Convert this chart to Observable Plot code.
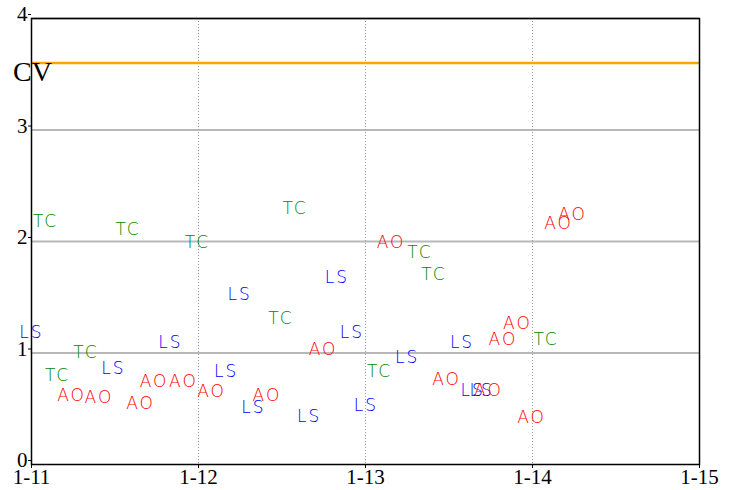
<!DOCTYPE html>
<html>
<head>
<meta charset="utf-8">
<script src="https://cdn.jsdelivr.net/npm/d3@7"></script>
<script src="https://cdn.jsdelivr.net/npm/@observablehq/plot@0.6"></script>
<style>
  html, body { margin: 0; padding: 0; background: #fff; }
  svg { display: block; }
</style>
</head>
<body>
<div id="chart"></div>
<script>
// x tick labels (positions 0..4)
const xTickLabels = ["1-11", "1-12", "1-13", "1-14", "1-15"];
const yTicks = [0, 1, 2, 3, 4];
const cvValue = 3.6;

// TC series (green)
const tcX = [0.078, 0.572, 0.988, 1.572, 2.32, 2.404, 1.488, 0.32, 0.15, 2.078, 3.075];
const tcY = [2.18, 2.11, 1.99, 2.30, 1.90, 1.70, 1.31, 1.00, 0.80, 0.83, 1.12];

// LS series (blue)
const lsX = [-0.006, 0.485, 0.826, 1.24, 1.159, 1.323, 1.656, 1.823, 1.913, 1.997, 2.243, 2.572, 2.635, 2.689];
const lsY = [1.18, 0.86, 1.09, 1.52, 0.83, 0.51, 0.43, 1.68, 1.18, 0.53, 0.96, 1.09, 0.66, 0.66];

// AO series (red)
const aoX = [0.234, 0.398, 0.647, 0.728, 0.904, 1.072, 1.404, 1.74, 2.147, 2.479, 2.73, 2.817, 2.904, 2.988, 3.15, 3.234];
const aoY = [0.62, 0.60, 0.55, 0.74, 0.74, 0.65, 0.62, 1.03, 1.99, 0.76, 0.66, 1.12, 1.26, 0.42, 2.16, 2.24];

const seriesColors = {TC: "#008a00", LS: "#0000ff", AO: "#ff0000"};

const points = [
  ...tcX.map((x, i) => ({x, y: tcY[i], label: "TC"})),
  ...lsX.map((x, i) => ({x, y: lsY[i], label: "LS"})),
  ...aoX.map((x, i) => ({x, y: aoY[i], label: "AO"}))
];

const chart = Plot.plot({
  width: 737,
  height: 490,
  marginLeft: 31,
  marginRight: 38,
  marginTop: 18,
  marginBottom: 26,
  style: {background: "#fff", overflow: "visible"},
  x: {domain: [0, 4], ticks: [0, 1, 2, 3, 4], tickFormat: i => xTickLabels[i]},
  y: {domain: [0, 4], ticks: yTicks, tickFormat: d => String(d)},
  marks: [
    Plot.ruleY(yTicks.filter(d => d > 0), {stroke: "#b8b8b8", strokeWidth: 2}),
    Plot.ruleX([1, 2, 3], {stroke: "#999", strokeWidth: 1, strokeDasharray: "1,2"}),
    Plot.ruleY([cvValue], {stroke: "#ffa500", strokeWidth: 2.5}),
    Plot.text(points, {
      x: "x", y: "y", text: "label",
      fill: d => seriesColors[d.label],
      fontSize: 17, fontFamily: "DejaVu Sans", fontWeight: 200,
      textAnchor: "middle", dx: 1
    }),
    Plot.text([cvValue], {
      x: 0, y: d => d, text: () => "CV",
      fontSize: 28, fontFamily: "Liberation Serif", fill: "black",
      textAnchor: "middle", dx: 1, dy: 9
    }),
    Plot.frame({stroke: "black", strokeWidth: 1.5}),
    Plot.axisX({
      ticks: [0, 1, 2, 3, 4], tickFormat: i => xTickLabels[i],
      tickSize: 4, tickPadding: 1,
      fontSize: 21, fontFamily: "Liberation Serif", label: null
    }),
    Plot.axisY({
      ticks: yTicks, tickFormat: d => String(d), tickSize: 3, tickPadding: 1,
      fontSize: 21, fontFamily: "Liberation Serif", label: null, dy: -4
    })
  ]
});

// apply letter spacing to data labels
chart.querySelectorAll("text").forEach(t => {
  const s = t.textContent;
  if (s === "TC" || s === "LS" || s === "AO") t.setAttribute("letter-spacing", "2");
});

document.getElementById("chart").appendChild(chart);
</script>
</body>
</html>
